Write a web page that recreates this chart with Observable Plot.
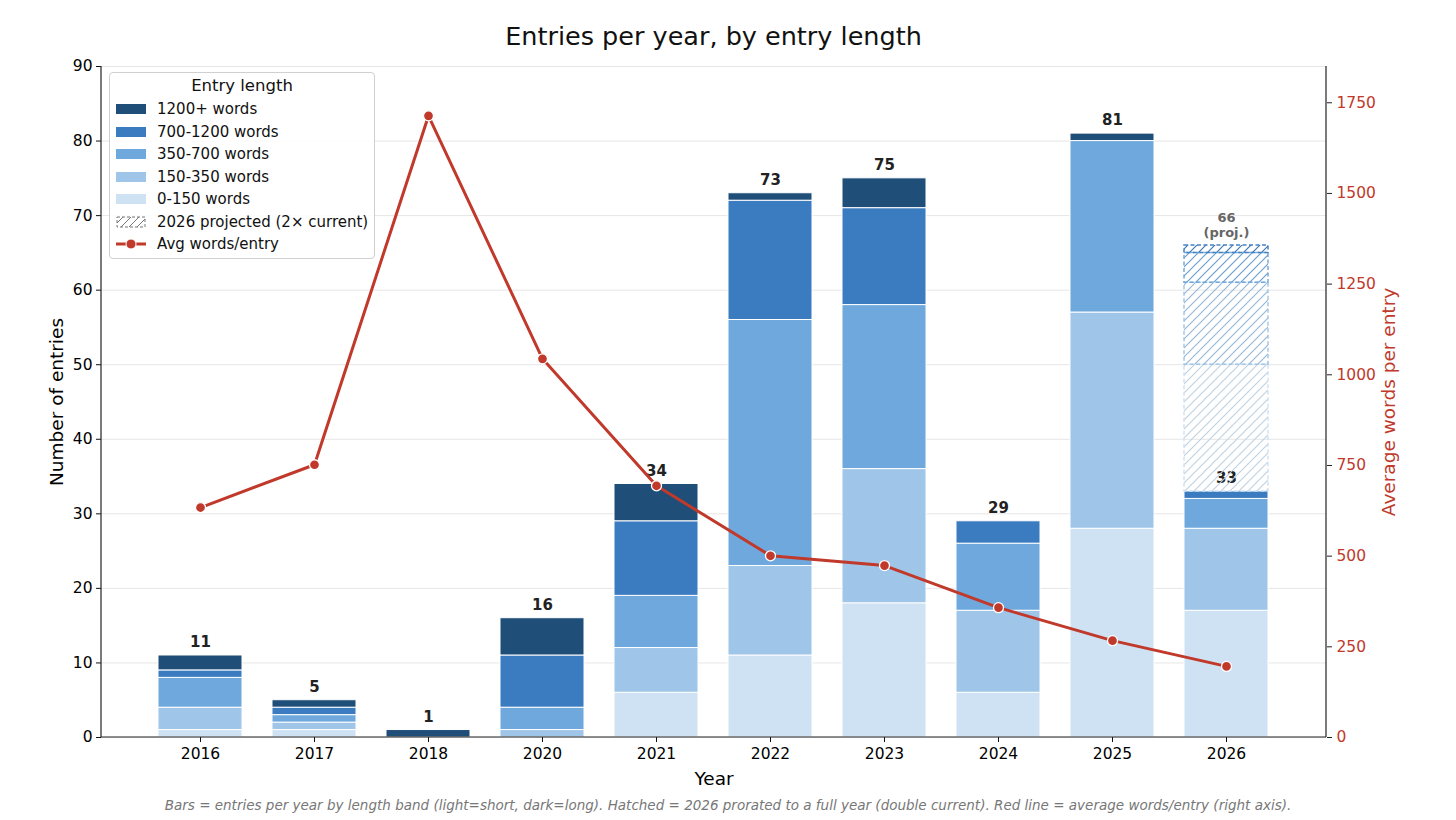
<!DOCTYPE html>
<html>
<head>
<meta charset="utf-8">
<script src="https://cdn.jsdelivr.net/npm/d3@7"></script>
<script src="https://cdn.jsdelivr.net/npm/@observablehq/plot@0.6"></script>
<style>
  html, body { margin: 0; padding: 0; background: #fff; }
  body { font-family: "DejaVu Sans", sans-serif; }
  #wrap { position: relative; width: 1456px; height: 820px; overflow: hidden; }
  #title { position: absolute; left: 0; top: 21px; width: 1427px; text-align: center; font-size: 25.5px; color: #111; }
  #chart { position: absolute; left: 0; top: 56px; }
  #caption { position: absolute; left: 0; top: 797px; width: 1456px; text-align: center; font-size: 13.5px; font-style: italic; color: #777; }
  #legend { position: absolute; left: 109px; top: 72px; width: 266px; height: 187px; border: 1px solid #d0d0d0; border-radius: 4px; background: rgba(255,255,255,0.85); box-sizing: border-box; }
  #legend .lt { position: absolute; left: 0; width: 100%; top: 3px; text-align: center; font-size: 16.5px; color: #111; }
  #legend .it { position: absolute; left: 6px; height: 20px; display: flex; align-items: center; font-size: 15px; color: #111; }
  #legend .it svg { margin-right: 11px; }
</style>
</head>
<body>
<div id="wrap">
  <div id="title">Entries per year, by entry length</div>
  <div id="chart"></div>
  <div id="legend"></div>
  <div id="caption">Bars = entries per year by length band (light=short, dark=long). Hatched = 2026 prorated to a full year (double current). Red line = average words/entry (right axis).</div>
</div>
<script>
// ---------- data ----------
const years = ["2016","2017","2018","2020","2021","2022","2023","2024","2025","2026"];
const bands = ["0-150 words","150-350 words","350-700 words","700-1200 words","1200+ words"];
const bandColors = ["#cfe2f3","#9fc5e8","#6fa8dc","#3b7bbf","#1f4e79"];
const words0_150    = [1, 1, 0, 0, 6, 11, 18, 6, 28, 17];
const words150_350  = [3, 1, 0, 1, 6, 12, 18, 11, 29, 11];
const words350_700  = [4, 1, 0, 3, 7, 33, 22, 9, 23, 4];
const words700_1200 = [1, 1, 0, 7, 10, 16, 13, 3, 0, 1];
const words1200plus = [2, 1, 1, 5, 5, 1, 4, 0, 1, 0];
const avgWords = [634, 752, 1714, 1044, 694, 501, 474, 358, 267, 196];
const projectedYear = "2026";
const projectionFactor = 2;
const leftTicks = [0,10,20,30,40,50,60,70,80,90];
const rightTicks = [0,250,500,750,1000,1250,1500,1750];
const yMax = 90;
const rightMax = 1850;

// ---------- derived tables ----------
const seriesByBand = [words0_150, words150_350, words350_700, words700_1200, words1200plus];
const segs = [];
const totals = [];
years.forEach((yr, i) => {
  let acc = 0;
  bands.forEach((b, j) => {
    const v = seriesByBand[j][i];
    if (v > 0) segs.push({year: yr, band: b, y1: acc, y2: acc + v});
    acc += v;
  });
  totals.push({year: yr, total: acc});
});
const pi = years.indexOf(projectedYear);
const projSegs = [];
let pacc = totals[pi].total;
bands.forEach((b, j) => {
  const v = seriesByBand[j][pi] * (projectionFactor - 1);
  if (v > 0) projSegs.push({year: projectedYear, band: b, j, y1: pacc, y2: pacc + v});
  pacc += v;
});
const projTotal = pacc;
const k = yMax / rightMax;
const avgData = years.map((yr, i) => ({year: yr, v: avgWords[i] * k}));

const red = "#c0392b";
const font = "DejaVu Sans, sans-serif";

const chart = Plot.plot({
  width: 1456,
  height: 734,
  marginTop: 10,
  marginBottom: 53,
  marginLeft: 101,
  marginRight: 130,
  style: {fontFamily: font, fontSize: "15px", color: "#111", background: "transparent", overflow: "visible"},
  x: {domain: years, paddingInner: 0.26, paddingOuter: 0.5, label: null},
  y: {domain: [0, yMax], label: null},
  color: {domain: bands, range: bandColors},
  marks: [
    Plot.gridY(leftTicks, {stroke: "#e6e6e6", strokeOpacity: 1, strokeWidth: 1}),
    Plot.barY(segs, {x: "year", y1: "y1", y2: "y2", fill: "band", stroke: "#fff", strokeWidth: 1}),
    Plot.text(totals, {x: "year", y: "total", text: d => String(d.total), dy: -13, fontWeight: "bold", fontSize: 15, fill: "#222"}),
    Plot.barY(projSegs, {x: "year", y1: "y1", y2: "y2", fill: d => `url(#hatch${d.j})`, stroke: d => bandColors[d.j], strokeWidth: 1.5, strokeDasharray: "4,2.5", strokeOpacity: 0.95}),
    Plot.text([{year: projectedYear, v: projTotal}], {x: "year", y: "v", text: d => `${d.v}\n(proj.)`, lineAnchor: "bottom", dy: -8, fontWeight: "bold", fontSize: 13, fill: "#666", lineHeight: 1.15}),
    Plot.line(avgData, {x: "year", y: "v", stroke: red, strokeWidth: 3}),
    Plot.dot(avgData, {x: "year", y: "v", r: 5, fill: red, stroke: "#fff", strokeWidth: 1.3}),
    Plot.axisY(leftTicks, {anchor: "left", tickSize: 5, tickPadding: 4, fontSize: 15.5, fill: "#000", label: "Number of entries", labelAnchor: "center", labelArrow: "none", labelOffset: 52}),
    Plot.axisY(rightTicks.map(v => v * k), {anchor: "right", tickSize: 5, tickPadding: 5, fontSize: 15.5, stroke: "#222", fill: red, tickFormat: d => String(Math.round(d / k)), label: "Average words per entry", labelAnchor: "center", labelArrow: "none", labelOffset: 68}),
    Plot.axisX({anchor: "bottom", tickSize: 5, tickPadding: 5, fontSize: 15.5, fill: "#000", label: "Year", labelAnchor: "center", labelArrow: "none", labelOffset: 47})
  ]
});

// patterns for hatched bars
const svg = d3.select(chart);
const defs = svg.insert("defs", ":first-child");
bandColors.forEach((c, j) => {
  const p = defs.append("pattern").attr("id", `hatch${j}`).attr("patternUnits", "userSpaceOnUse").attr("width", 9).attr("height", 9);
  p.append("path").attr("d", "M-1,1 L1,-1 M0,9 L9,0 M8,10 L10,8").attr("stroke", d3.color(c).darker(0.25).formatHex()).attr("stroke-width", 1.2).attr("stroke-opacity", 0.95);
});
// spines
const L = 101, R = 1456 - 130, T = 10, B = 734 - 53;
svg.append("line").attr("x1", L).attr("x2", L).attr("y1", T).attr("y2", B).attr("stroke", "#222").attr("stroke-width", 1.2);
svg.append("line").attr("x1", R).attr("x2", R).attr("y1", T).attr("y2", B).attr("stroke", "#222").attr("stroke-width", 1.2);
svg.append("line").attr("x1", L).attr("x2", R).attr("y1", B).attr("y2", B).attr("stroke", "#222").attr("stroke-width", 1.2);
svg.selectAll("[aria-label='y-axis tick label'], [aria-label='x-axis tick label']").attr("font-size", 15.5);
svg.selectAll("[aria-label='y-axis label']").attr("font-size", 18.5);
svg.selectAll("[aria-label='x-axis label']").attr("font-size", 18.5);
document.getElementById("chart").appendChild(chart);

// legend
const lg = document.getElementById("legend");
lg.innerHTML = `<div class="lt">Entry length</div>`;
const items = [
  {t: "1200+ words", c: bandColors[4]},
  {t: "700-1200 words", c: bandColors[3]},
  {t: "350-700 words", c: bandColors[2]},
  {t: "150-350 words", c: bandColors[1]},
  {t: "0-150 words", c: bandColors[0]},
  {t: "2026 projected (2× current)", hatch: true},
  {t: "Avg words/entry", line: true}
];
items.forEach((it, i) => {
  const top = 26 + i * 22.5;
  let sw;
  if (it.hatch) {
    sw = `<svg width="30" height="12"><defs><pattern id="lgh" patternUnits="userSpaceOnUse" width="8" height="8"><path d="M-1,1 L1,-1 M0,8 L8,0 M7,9 L9,7" stroke="#777" stroke-width="1"/></pattern></defs><rect x="1" y="1" width="28" height="10" fill="url(#lgh)" stroke="#777" stroke-dasharray="3,2"/></svg>`;
  } else if (it.line) {
    sw = `<svg width="30" height="12"><line x1="0" x2="30" y1="6" y2="6" stroke="${red}" stroke-width="3"/><circle cx="15" cy="6" r="5" fill="${red}" stroke="#fff" stroke-width="1"/></svg>`;
  } else {
    sw = `<svg width="30" height="12"><rect x="0" y="1" width="30" height="10" fill="${it.c}"/></svg>`;
  }
  const d = document.createElement("div");
  d.className = "it";
  d.style.top = top + "px";
  d.innerHTML = sw + `<span>${it.t}</span>`;
  lg.appendChild(d);
});
</script>
</body>
</html>
